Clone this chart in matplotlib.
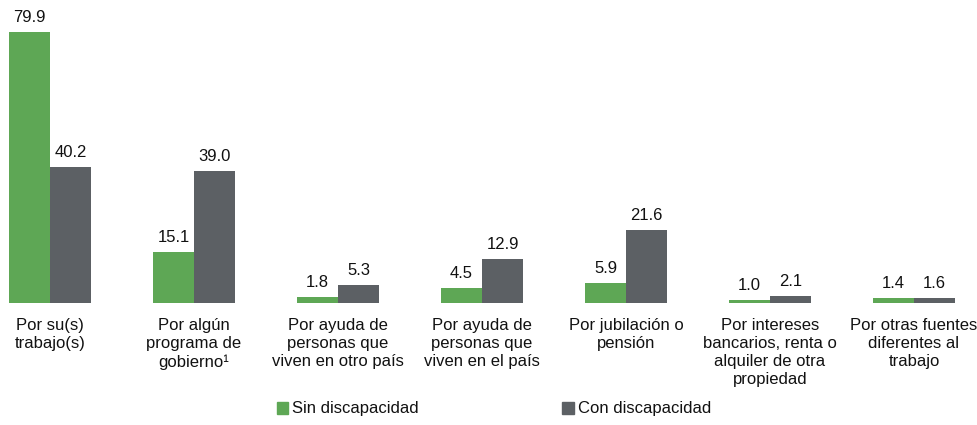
import matplotlib.pyplot as plt
from matplotlib.patches import Patch
import numpy as np

categories = [
    "Por su(s)\ntrabajo(s)",
    "Por algún\nprograma de\ngobierno\u00b9",
    "Por ayuda de\npersonas que\nviven en otro país",
    "Por ayuda de\npersonas que\nviven en el país",
    "Por jubilación o\npensión",
    "Por intereses\nbancarios, renta o\nalquiler de otra\npropiedad",
    "Por otras fuentes\ndiferentes al\ntrabajo",
]
sin_disc = [79.9, 15.1, 1.8, 4.5, 5.9, 1.0, 1.4]
con_disc = [40.2, 39.0, 5.3, 12.9, 21.6, 2.1, 1.6]

green = "#5ea755"
gray = "#5c6064"

plt.rcParams['font.family'] = ['Liberation Sans', 'DejaVu Sans']

fig = plt.figure(figsize=(9.78, 4.25), dpi=100)
ax = fig.add_axes([0, 122 / 425, 1, 303 / 425])

x = np.arange(len(categories))
w = 0.285
b1 = ax.bar(x - w / 2, sin_disc, w, color=green, label="Sin discapacidad")
b2 = ax.bar(x + w / 2, con_disc, w, color=gray, label="Con discapacidad")

for bars, vals in ((b1, sin_disc), (b2, con_disc)):
    for r, v in zip(bars, vals):
        ax.annotate(f"{v:.1f}", (r.get_x() + r.get_width() / 2, v),
                    xytext=(0, 5), textcoords="offset points",
                    ha="center", va="bottom", fontsize=12, color="#111111")

ax.set_xlim(-50 / 144, 928 / 144)
ax.set_ylim(0, 89.4)
ax.set_xticks(x)
ax.set_xticklabels(categories, fontsize=12, linespacing=1.25, color="#111111")
ax.tick_params(axis='x', length=0, pad=11)
ax.set_yticks([])
for s in ax.spines.values():
    s.set_visible(False)

handles = [Patch(color=green), Patch(color=gray)]
fig.legend(handles, ["Sin discapacidad", "Con discapacidad"], ncol=2,
           loc="center", bbox_to_anchor=(494 / 978, 1 - 409 / 425),
           frameon=False, fontsize=12, handlelength=0.7, handleheight=0.7,
           handletextpad=0.25, columnspacing=8.6, labelcolor="#111111")

fig.savefig("out.png", dpi=100)
